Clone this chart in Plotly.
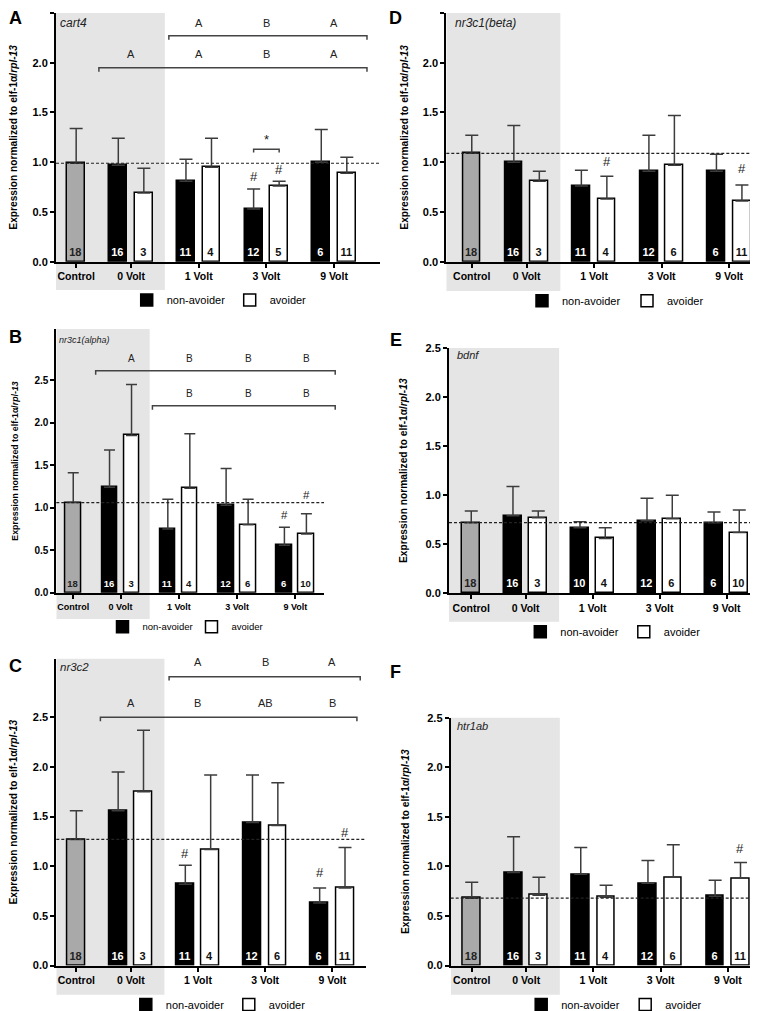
import plotly.graph_objects as go

W, H = 758, 1011
FONT = "Liberation Sans, Arial, Helvetica, sans-serif"

# ------------------------------------------------------------------ data
groups = ["Control", "0 Volt", "1 Volt", "3 Volt", "9 Volt"]
series_names = ["non-avoider", "avoider"]
y_ticks = [0.0, 0.5, 1.0, 1.5, 2.0, 2.5]

# A  cart4
cart4_ctrl = 0.99
cart4_ctrl_err = 0.35
cart4_ctrl_n = 18
cart4_non = [0.97, 0.81, 0.53, 1.00]
cart4_non_err = [0.27, 0.22, 0.20, 0.33]
cart4_non_n = [16, 11, 12, 6]
cart4_avo = [0.69, 0.95, 0.76, 0.89]
cart4_avo_err = [0.25, 0.29, 0.05, 0.16]
cart4_avo_n = [3, 4, 5, 11]
cart4_letters_upper = [None, "A", "B", "A"]
cart4_letters_lower = ["A", "A", "B", "A"]
cart4_hash = [("non", 2, 0.86), ("avo", 2, 0.93)]
cart4_star = [(2, 1.13, "*")]

# B  nr3c1(alpha)
alpha_ctrl = 1.06
alpha_ctrl_err = 0.35
alpha_ctrl_n = 18
alpha_non = [1.24, 0.75, 1.03, 0.56]
alpha_non_err = [0.44, 0.35, 0.43, 0.21]
alpha_non_n = [16, 11, 12, 6]
alpha_avo = [1.85, 1.23, 0.80, 0.69]
alpha_avo_err = [0.60, 0.64, 0.30, 0.24]
alpha_avo_n = [3, 4, 6, 10]
alpha_letters_upper = ["A", "B", "B", "B"]
alpha_letters_lower = [None, "B", "B", "B"]
alpha_hash = [("non", 3, 0.91), ("avo", 3, 1.15)]

# C  nr3c2
c2_ctrl = 1.27
c2_ctrl_err = 0.29
c2_ctrl_n = 18
c2_non = [1.56, 0.82, 1.44, 0.63]
c2_non_err = [0.39, 0.19, 0.48, 0.15]
c2_non_n = [16, 11, 12, 6]
c2_avo = [1.75, 1.17, 1.41, 0.78]
c2_avo_err = [0.62, 0.75, 0.43, 0.41]
c2_avo_n = [3, 4, 6, 11]
c2_letters_upper = [None, "A", "B", "A"]
c2_letters_lower = ["A", "B", "AB", "B"]
c2_hash = [("non", 1, 1.13), ("non", 3, 0.94), ("avo", 3, 1.34)]

# D  nr3c1(beta)
beta_ctrl = 1.09
beta_ctrl_err = 0.18
beta_ctrl_n = 18
beta_non = [1.00, 0.76, 0.91, 0.91]
beta_non_err = [0.37, 0.16, 0.36, 0.17]
beta_non_n = [16, 11, 12, 6]
beta_avo = [0.81, 0.63, 0.97, 0.61]
beta_avo_err = [0.10, 0.23, 0.50, 0.16]
beta_avo_n = [3, 4, 6, 11]
beta_hash = [("avo", 1, 1.01), ("avo", 3, 0.94)]

# E  bdnf
bdnf_ctrl = 0.72
bdnf_ctrl_err = 0.12
bdnf_ctrl_n = 18
bdnf_non = [0.79, 0.67, 0.74, 0.72]
bdnf_non_err = [0.30, 0.06, 0.23, 0.11]
bdnf_non_n = [16, 10, 12, 6]
bdnf_avo = [0.77, 0.56, 0.76, 0.62]
bdnf_avo_err = [0.07, 0.11, 0.24, 0.23]
bdnf_avo_n = [3, 4, 6, 10]

# F  htr1ab
htr_ctrl = 0.68
htr_ctrl_err = 0.16
htr_ctrl_n = 18
htr_non = [0.94, 0.92, 0.83, 0.70]
htr_non_err = [0.36, 0.27, 0.23, 0.16]
htr_non_n = [16, 11, 12, 6]
htr_avo = [0.71, 0.69, 0.89, 0.88]
htr_avo_err = [0.18, 0.12, 0.33, 0.16]
htr_avo_n = [3, 4, 6, 11]
htr_hash = [("avo", 3, 1.18)]

# ------------------------------------------------------------------ layout constants
CTRL_POS = 0.0
VOLT_POS = [2.15 + 2.65 * i for i in range(4)]
OFF = 0.5
BW = 0.7
GRAY_BG = "#e5e5e5"
CTRL_FILL = "#a9a9a9"
ERR_COL = "#3c3c3c"

normal_fs = dict(tick=11, cat=10.5, legend=11, letter=11, n=11, title=10.2, hash=13, cap=6.5)
small_fs = dict(tick=10, cat=9, legend=9.5, letter=10, n=9.5, title=8.8, hash=11.5, cap=5.5)

panels = [
    dict(label="A", gene="cart4", k=1, x_px=(48, 372), y_px=(5, 255), ymax=2.5, xr=(-0.79, 11.90),
         gray_bottom=283.3, legend=(146.7, 296, 58), label_xy=(7.5, 10), gene_xy=(50, 15), gene_fs=12,
         fs=normal_fs, standoff=18,
         data=(cart4_ctrl, cart4_ctrl_err, cart4_ctrl_n, cart4_non, cart4_non_err, cart4_non_n,
               cart4_avo, cart4_avo_err, cart4_avo_n),
         rows=[(cart4_letters_upper, 2.40, 2.27, 3.63, 11.39), (cart4_letters_lower, 2.09, 1.95, 0.89, 11.39)],
         letters_on_white=False, hashes=cart4_hash, stars=cart4_star),
    dict(label="B", gene="nr3c1(alpha)", k=2, x_px=(48.3, 316), y_px=(322.7, 587.7), ymax=3.10, xr=(-0.77, 11.40),
         gray_bottom=614, legend=(122.5, 624.3, 44), label_xy=(7.5, 331), gene_xy=(49.3, 333.3), gene_fs=9,
         fs=small_fs, standoff=14,
         data=(alpha_ctrl, alpha_ctrl_err, alpha_ctrl_n, alpha_non, alpha_non_err, alpha_non_n,
               alpha_avo, alpha_avo_err, alpha_avo_n),
         rows=[(alpha_letters_upper, 2.76, 2.61, 1.02, 11.91), (alpha_letters_lower, 2.34, 2.20, 3.60, 11.91)],
         letters_on_white=True, hashes=alpha_hash, stars=[]),
    dict(label="C", gene="nr3c2", k=3, x_px=(48.3, 358.3), y_px=(654, 962.3), ymax=3.09, xr=(-0.79, 11.44),
         gray_bottom=991.7, legend=(145.8, 1004, 58), label_xy=(7.5, 661.7), gene_xy=(50, 662), gene_fs=11.5,
         fs=normal_fs, standoff=18,
         data=(c2_ctrl, c2_ctrl_err, c2_ctrl_n, c2_non, c2_non_err, c2_non_n, c2_avo, c2_avo_err, c2_avo_n),
         rows=[(c2_letters_upper, 3.06, 2.91, 3.66, 11.20), (c2_letters_lower, 2.64, 2.50, 0.95, 11.07)],
         letters_on_white=False, hashes=c2_hash, stars=[]),
    dict(label="D", gene="nr3c1(beta)", k=4, x_px=(438.3, 751), y_px=(5, 255), ymax=2.5, xr=(-1.0, 11.27),
         gray_bottom=284.3, legend=(542, 296.7, 60), label_xy=(387.5, 10), gene_xy=(445, 15), gene_fs=12,
         fs=normal_fs, standoff=12,
         data=(beta_ctrl, beta_ctrl_err, beta_ctrl_n, beta_non, beta_non_err, beta_non_n,
               beta_avo, beta_avo_err, beta_avo_n),
         rows=[], letters_on_white=False, hashes=beta_hash, stars=[]),
    dict(label="E", gene="bdnf", k=5, x_px=(441, 751), y_px=(341.7, 588.3), ymax=2.5, xr=(-0.88, 11.38),
         gray_bottom=616.7, legend=(540.3, 629.3, 58.5), label_xy=(387.5, 334), gene_xy=(446.7, 348.3), gene_fs=11,
         fs=normal_fs, standoff=16,
         data=(bdnf_ctrl, bdnf_ctrl_err, bdnf_ctrl_n, bdnf_non, bdnf_non_err, bdnf_non_n,
               bdnf_avo, bdnf_avo_err, bdnf_avo_n),
         rows=[], letters_on_white=False, hashes=[], stars=[]),
    dict(label="F", gene="htr1ab", k=6, x_px=(442.7, 751), y_px=(713.3, 962.3), ymax=2.5, xr=(-0.83, 11.33),
         gray_bottom=991.7, legend=(541.2, 1004, 59), label_xy=(387.5, 667.5), gene_xy=(446.7, 721.7), gene_fs=11,
         fs=normal_fs, standoff=16,
         data=(htr_ctrl, htr_ctrl_err, htr_ctrl_n, htr_non, htr_non_err, htr_non_n,
               htr_avo, htr_avo_err, htr_avo_n),
         rows=[], letters_on_white=False, hashes=htr_hash, stars=[]),
]

fig = go.Figure()
shapes = []
annotations = []
layout_updates = {}


def bar_trace(x, y, err, n, fill, txtcol, fs, xa, ya, name, show, legend_id, cap):
    return go.Bar(
        x=x, y=y, width=BW, name=name, showlegend=show, legend=legend_id,
        marker=dict(color=fill, line=dict(color="black", width=1.5)),
        error_y=dict(type="data", array=err, arrayminus=[0] * len(err), symmetric=False,
                     color=ERR_COL, thickness=1.5, width=cap),
        text=[str(v) for v in n], textposition="inside", insidetextanchor="start", textangle=0,
        constraintext="none",
        textfont=dict(family=FONT, size=fs, color=txtcol, weight="bold"),
        xaxis=xa, yaxis=ya, hoverinfo="skip",
    )


for p in panels:
    k = p["k"]
    xa = "x" if k == 1 else f"x{k}"
    ya = "y" if k == 1 else f"y{k}"
    xkey = "xaxis" if k == 1 else f"xaxis{k}"
    ykey = "yaxis" if k == 1 else f"yaxis{k}"
    lkey = "legend" if k == 1 else f"legend{k}"
    fs = p["fs"]
    x0, x1 = p["x_px"]
    yt, yb = p["y_px"]
    xr0, xr1 = p["xr"]
    ypx_per_unit = (yb - yt) / p["ymax"]

    def u2paper(u, x0=x0, x1=x1, xr0=xr0, xr1=xr1):
        return (x0 + (u - xr0) / (xr1 - xr0) * (x1 - x0)) / W

    (ctrl, ctrl_err, ctrl_n, non, non_err, non_n, avo, avo_err, avo_n) = p["data"]
    non_x = [v - OFF for v in VOLT_POS]
    avo_x = [v + OFF for v in VOLT_POS]

    fig.add_trace(bar_trace([CTRL_POS], [ctrl], [ctrl_err], [ctrl_n], CTRL_FILL, "#222222", fs["n"],
                            xa, ya, "Control", False, lkey, fs["cap"]))
    fig.add_trace(bar_trace(non_x, non, non_err, non_n, "black", "white", fs["n"],
                            xa, ya, series_names[0], True, lkey, fs["cap"]))
    fig.add_trace(bar_trace(avo_x, avo, avo_err, avo_n, "white", "#111111", fs["n"],
                            xa, ya, series_names[1], True, lkey, fs["cap"]))

    layout_updates[xkey] = dict(
        domain=[x0 / W, x1 / W], range=[xr0, xr1], anchor=ya,
        showline=True, linecolor="black", linewidth=2, mirror=False,
        ticks="outside", ticklen=4, tickwidth=1.5, tickcolor="black",
        tickvals=[CTRL_POS] + VOLT_POS, ticktext=groups,
        tickfont=dict(family=FONT, size=fs["cat"], color="black", weight="bold"),
        showgrid=False, zeroline=False, fixedrange=True, automargin=False,
    )
    layout_updates[ykey] = dict(
        domain=[1 - yb / H, 1 - yt / H], range=[0, p["ymax"]], anchor=xa,
        showline=True, linecolor="black", linewidth=2,
        ticks="outside", ticklen=4, tickwidth=1.5, tickcolor="black",
        tickvals=y_ticks, tickformat=".1f",
        tickfont=dict(family=FONT, size=fs["tick"], color="black", weight="bold"),
        title=dict(text="<b>Expression normalized to elf-1α/<i>rpl-13</i></b>",
                   font=dict(family=FONT, size=fs["title"], color="black"), standoff=p["standoff"]),
        showgrid=False, zeroline=False, fixedrange=True, automargin=False,
    )
    lx, ly, ew = p["legend"]
    layout_updates[lkey] = dict(
        x=(lx - 28) / W, y=1 - (ly - 2.5) / H, xanchor="left", yanchor="middle", orientation="h",
        entrywidth=ew, entrywidthmode="pixels", bgcolor="rgba(0,0,0,0)", borderwidth=0,
        font=dict(family=FONT, size=fs["legend"], color="black"), itemclick=False, itemdoubleclick=False,
    )

    # shaded 0-volt / control region
    shapes.append(dict(type="rect", xref=xa, yref=f"{ya} domain", x0=xr0, x1=(VOLT_POS[0] + VOLT_POS[1]) / 2,
                       y0=-(p["gray_bottom"] - yb) / (yb - yt), y1=1, fillcolor=GRAY_BG,
                       line=dict(width=0), layer="below"))
    # dashed control reference line
    shapes.append(dict(type="line", xref=f"{xa} domain", yref=ya, x0=0, x1=1, y0=ctrl, y1=ctrl,
                       line=dict(color="#222222", width=1.2, dash="3px,2px"), layer="above"))

    tick_u = 4 / ypx_per_unit
    for letters, ly_, by, bu0, bu1 in p["rows"]:
        xp0, xp1 = u2paper(bu0), u2paper(bu1)
        shapes.append(dict(type="path", xref="paper", yref=ya,
                           path=f"M{xp0},{by - tick_u} L{xp0},{by} L{xp1},{by} L{xp1},{by - tick_u}",
                           line=dict(color="#444444", width=1.5), layer="above"))
        for i, t in enumerate(letters):
            if t:
                xx = VOLT_POS[i] + (OFF if p["letters_on_white"] else 0)
                annotations.append(dict(x=xx, y=ly_, xref=xa, yref=ya, text=t, showarrow=False,
                                        xanchor="center", yanchor="middle",
                                        font=dict(family=FONT, size=fs["letter"], color="#222222")))
    for gi, by, t in p["stars"]:
        xa0, xa1 = VOLT_POS[gi] - OFF, VOLT_POS[gi] + OFF
        shapes.append(dict(type="path", xref=xa, yref=ya,
                           path=f"M{xa0},{by - tick_u * 0.8} L{xa0},{by} L{xa1},{by} L{xa1},{by - tick_u * 0.8}",
                           line=dict(color="#444444", width=1.5), layer="above"))
        annotations.append(dict(x=VOLT_POS[gi], y=by + 0.1, xref=xa, yref=ya, text=t, showarrow=False,
                                xanchor="center", yanchor="middle",
                                font=dict(family=FONT, size=fs["hash"], color="#222222")))
    for ser, gi, hy in p["hashes"]:
        xx = VOLT_POS[gi] + (-OFF if ser == "non" else OFF)
        annotations.append(dict(x=xx, y=hy, xref=xa, yref=ya, text="#", showarrow=False,
                                xanchor="center", yanchor="middle",
                                font=dict(family=FONT, size=fs["hash"], color="#222222")))

    gx, gy = p["gene_xy"]
    annotations.append(dict(x=gx / W, y=1 - gy / H, xref="paper", yref="paper", text=f"<i>{p['gene']}</i>",
                            showarrow=False, xanchor="left", yanchor="middle",
                            font=dict(family=FONT, size=p["gene_fs"], color="#222222")))
    px_, py_ = p["label_xy"]
    annotations.append(dict(x=px_ / W, y=1 - py_ / H, xref="paper", yref="paper", text=f"<b>{p['label']}</b>",
                            showarrow=False, xanchor="center", yanchor="middle",
                            font=dict(family=FONT, size=18, color="black")))

fig.update_layout(
    template="none",
    width=W, height=H, autosize=False,
    margin=dict(l=0, r=0, t=0, b=0, pad=0),
    paper_bgcolor="white", plot_bgcolor="rgba(0,0,0,0)",
    barmode="overlay", bargap=0,
    font=dict(family=FONT, color="black"),
    shapes=shapes, annotations=annotations,
    hovermode=False,
    **layout_updates,
)

fig.write_html("out.html")
